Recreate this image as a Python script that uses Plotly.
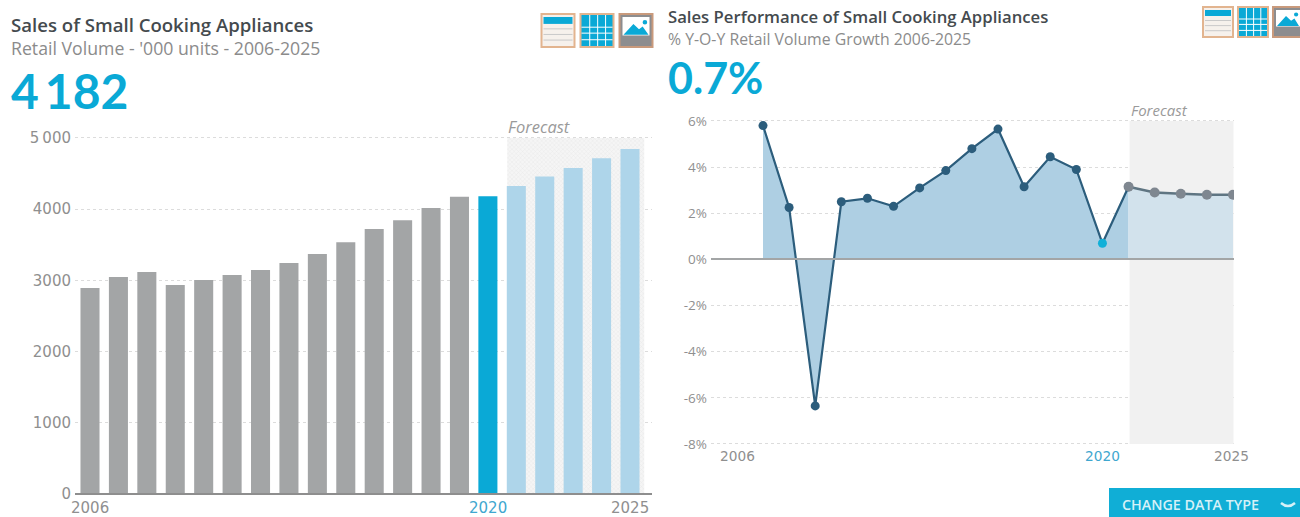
import plotly.graph_objects as go

W, H = 1300, 517

# Retail volume, '000 units
vol_years = list(range(2006, 2021))
vol_values = [2893, 3048, 3118, 2935, 3005, 3076, 3146, 3244, 3371, 3535, 3722, 3845, 4017, 4175, 4182]
fc_years = [2021, 2022, 2023, 2024, 2025]
fc_values = [4326, 4458, 4580, 4714, 4845]

# Year-on-year growth, %
growth_years = list(range(2007, 2022))
growth_values = [5.8, 2.25, -6.35, 2.5, 2.65, 2.3, 3.1, 3.85, 4.8, 5.65, 3.15, 4.45, 3.9, 0.7, 3.15]
growth_fc_years = [2021, 2022, 2023, 2024, 2025]
growth_fc_values = [3.15, 2.9, 2.85, 2.8, 2.8]

vol_ticks = [0, 1000, 2000, 3000, 4000, 5000]
vol_ticklabels = ["0", "1000", "2000", "3000", "4000", "5\u2009000"]
growth_ticks = [-8, -6, -4, -2, 0, 2, 4, 6]
growth_ticklabels = ["-8%", "-6%", "-4%", "-2%", "0%", "2%", "4%", "6%"]

FONT = "'Open Sans', sans-serif"
BIG_FONT = "Lato, sans-serif"
NUM_FONT = "'DejaVu Sans', sans-serif"
CYAN = "#0aa9d6"
GREY_BAR = "#a3a5a6"
LIGHT_BAR = "#aed5ea"
NAVY = "#2c5d7c"
GRID = "#dcdcdc"
TICK = "#8f8f8f"
ICON_EDGE = "#e2b48f"


def px(x):
    return x / W


def py(y):
    return 1 - y / H


shapes, notes = [], []


def rect(x0, y0, x1, y1, fill, line=None, width=0):
    shapes.append(dict(type="rect", xref="paper", yref="paper",
                       x0=px(x0), x1=px(x1), y0=py(y1), y1=py(y0),
                       fillcolor=fill,
                       line=dict(color=line or fill, width=width)))


def hline(x0, x1, y, color, width):
    shapes.append(dict(type="line", xref="paper", yref="paper", x0=px(x0), x1=px(x1),
                       y0=py(y), y1=py(y), line=dict(color=color, width=width)))


def text(x, y, s, size, color, weight=400, anchor="left", italic=False, family=FONT):
    notes.append(dict(xref="paper", yref="paper", x=px(x), y=py(y), text=s, showarrow=False,
                      xanchor=anchor, yanchor="middle", borderpad=0,
                      font=dict(family=family, size=size, color=color, weight=weight,
                                style="italic" if italic else "normal")))


def icons(x, y, s, gap):
    """Table, grid and picture buttons of edge length s starting at (x, y)."""
    # table view
    rect(x, y, x + s, y + s, "#f6f1ec", ICON_EDGE, 2)
    rect(x + 2, y + 3, x + s - 2, y + s * 0.3, CYAN)
    for f in (0.45, 0.62, 0.79):
        hline(x + 2, x + s - 2, y + s * f, "#c9c9c9", 1)
    # grid view
    x2 = x + s + gap
    rect(x2, y, x2 + s, y + s, CYAN, ICON_EDGE, 2)
    for f in (0.28, 0.52, 0.76):
        shapes.append(dict(type="line", xref="paper", yref="paper",
                           x0=px(x2 + s * f), x1=px(x2 + s * f), y0=py(y + 1), y1=py(y + s - 1),
                           line=dict(color="#ffffff", width=1)))
    for f in (0.4, 0.58, 0.78):
        hline(x2 + 1, x2 + s - 1, y + s * f, "#ffffff", 1)
    # picture view
    x3 = x2 + s + gap
    rect(x3, y, x3 + s, y + s, "#8d8d8f", "#c99a7c", 2)
    rect(x3 + 3, y + 3, x3 + s - 3, y + s * 0.65, "#ffffff")
    sx0, sy1 = x3 + 4, y + s * 0.63
    path = (f"M{px(sx0)},{py(sy1)} L{px(sx0 + s * .3)},{py(y + s * .3)} "
            f"L{px(sx0 + s * .47)},{py(y + s * .46)} L{px(sx0 + s * .58)},{py(y + s * .38)} "
            f"L{px(x3 + s - 4)},{py(sy1)} Z")
    shapes.append(dict(type="path", xref="paper", yref="paper", path=path,
                       fillcolor=CYAN, line=dict(width=0)))
    shapes.append(dict(type="circle", xref="paper", yref="paper",
                       x0=px(x3 + s * .7), x1=px(x3 + s * .84),
                       y0=py(y + s * .32), y1=py(y + s * .18),
                       fillcolor=CYAN, line=dict(width=0)))


fig = go.Figure()

# Left panel: hatched forecast backdrop, then the bars
fig.add_trace(go.Bar(x=[2023], y=[5000], width=[4.82], offset=-2.32, xaxis="x", yaxis="y", hoverinfo="skip",
                     marker=dict(color="#ffffff", line=dict(width=0),
                                 pattern=dict(shape="x", fgcolor="#dadada", bgcolor="#f5f5f5",
                                              size=3, solidity=0.3))))
fig.add_trace(go.Bar(x=vol_years, y=vol_values, width=0.67, xaxis="x", yaxis="y",
                     marker=dict(color=[GREY_BAR] * (len(vol_years) - 1) + [CYAN], line=dict(width=0))))
fig.add_trace(go.Bar(x=fc_years, y=fc_values, width=0.67, xaxis="x", yaxis="y",
                     marker=dict(color=LIGHT_BAR, line=dict(width=0))))

# Right panel: forecast band drawn under the areas
fig.add_trace(go.Bar(x=[2023], y=[14], base=[-8], width=[3.98], offset=-1.96, xaxis="x2", yaxis="y2", hoverinfo="skip",
                     marker=dict(color="#f1f1f1", line=dict(width=0))))
fig.add_trace(go.Scatter(x=growth_years, y=growth_values, xaxis="x2", yaxis="y2", mode="none",
                         fill="tozeroy", fillcolor="#aecfe3"))
fig.add_trace(go.Scatter(x=growth_fc_years, y=growth_fc_values, xaxis="x2", yaxis="y2", mode="none",
                         fill="tozeroy", fillcolor="#d2e2ec"))
fig.add_trace(go.Scatter(x=growth_fc_years, y=growth_fc_values, xaxis="x2", yaxis="y2", mode="lines+markers",
                         line=dict(color="#5f7582", width=2.5),
                         marker=dict(color="#7f8790", size=10)))
fig.add_trace(go.Scatter(x=growth_years, y=growth_values, xaxis="x2", yaxis="y2", mode="lines+markers",
                         line=dict(color=NAVY, width=2.2),
                         marker=dict(size=9,
                                     color=[NAVY if yr != 2020 else "#12b0d8" for yr in growth_years[:-1]]
                                     + ["#7f8790"])))

# Headers
text(10, 24, "Sales of Small Cooking Appliances", 18.6, "#444a4e", 600)
text(10, 48, "Retail Volume - '000 units - 2006-2025", 17.7, "#8b8b8b")
text(10, 90, "4\u2009182", 48, CYAN, 700, family=BIG_FONT)
text(667, 17, "Sales Performance of Small Cooking Appliances", 16.7, "#444a4e", 600)
text(667, 39, "% Y-O-Y Retail Volume Growth 2006-2025", 15.8, "#8b8b8b")
text(667, 77, "0.7%", 43, CYAN, 700, family=BIG_FONT)
text(507, 126, "Forecast", 16.5, "#9a9a9a", italic=True)
text(1130, 110, "Forecast", 15, "#9a9a9a", italic=True)

# X labels
for x, s, c in ((90, "2006", TICK), (488, "2020", "#3fa7cf"), (630, "2025", TICK)):
    text(x, 507.5, s, 15, c, anchor="center", family=NUM_FONT)
for x, s, c in ((737, "2006", TICK), (1102, "2020", "#3fa7cf"), (1231, "2025", TICK)):
    text(x, 456, s, 13.7, c, anchor="center", family=NUM_FONT)

# Zero baselines
hline(75, 652, 494, "#8e8e8e", 2)
hline(711, 1234, 259, "#a3a5a6", 2)

icons(541.5, 14, 33, 6)
icons(1203, 7, 30, 5)

# Data type button
rect(1109, 488, 1300, 517, "#10aed6")
text(1121, 504, "CHANGE DATA TYPE", 14.3, "#d5f1f8", 600)
shapes.append(dict(type="path", xref="paper", yref="paper",
                   path=f"M{px(1281)},{py(503)} Q{px(1288)},{py(509)} {px(1295)},{py(503)}",
                   line=dict(color="#d5f1f8", width=2.5)))

step_l = (630 - 90) / 19
step_r = (1233 - 763) / 18
# A little headroom so the outermost gridlines are still drawn
scale_l = 356 / 5000
scale_r = 323 / 14
pad_l = 20
pad_r = 0.06

fig.update_layout(
    width=W, height=H, margin=dict(l=0, r=0, t=0, b=0), autosize=False,
    paper_bgcolor="#ffffff", plot_bgcolor="#ffffff", showlegend=False, barmode="overlay",
    font=dict(family=FONT),
    shapes=shapes, annotations=notes,
    xaxis=dict(domain=[px(75), px(652)], range=[2006 - 15 / step_l, 2025 + 22 / step_l], automargin=False,
               showgrid=False, showticklabels=False, zeroline=False, fixedrange=True),
    yaxis=dict(domain=[py(494), py(138 - pad_l * scale_l)], range=[0, 5000 + pad_l], automargin=False,
               tickvals=vol_ticks, ticktext=vol_ticklabels,
               showgrid=True, griddash="dot", gridcolor=GRID, gridwidth=1, zeroline=False,
               ticks="", tickfont=dict(size=15, color=TICK, family=NUM_FONT), ticklabelstandoff=3, fixedrange=True),
    xaxis2=dict(domain=[px(711), px(1234)], range=[2007 - 52 / step_r, 2025 + 1 / step_r], anchor="y2",
                automargin=False, showgrid=False, showticklabels=False, zeroline=False, fixedrange=True),
    yaxis2=dict(domain=[py(444 + pad_r * scale_r), py(121 - pad_r * scale_r)], range=[-8 - pad_r, 6 + pad_r],
                anchor="x2", automargin=False, tickvals=growth_ticks,
                ticktext=growth_ticklabels, showgrid=True, griddash="dot", gridcolor=GRID, gridwidth=1,
                zeroline=False, ticks="", tickfont=dict(size=13.5, color=TICK), ticklabelstandoff=3, fixedrange=True),
)

fig.write_html("out.html", config=dict(displayModeBar=False))
